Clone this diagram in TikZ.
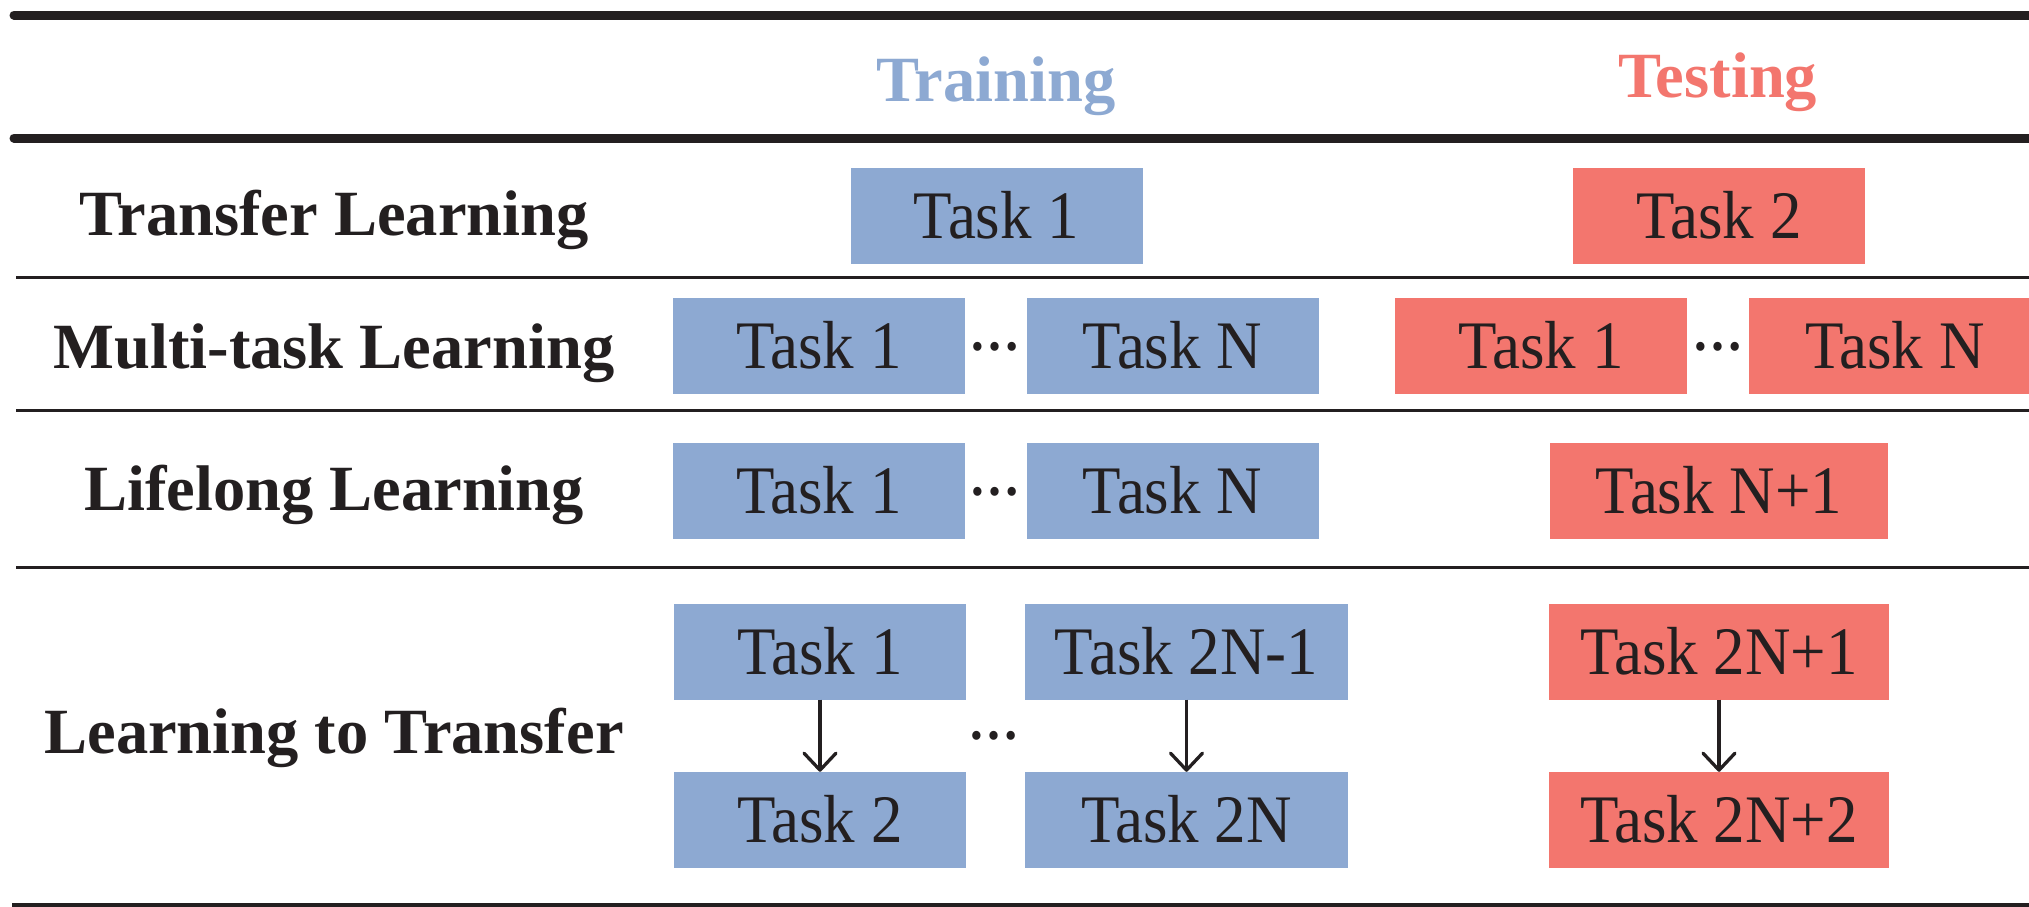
\documentclass[tikz,border=0pt]{standalone}
\usepackage{fontspec}
\setmainfont{Liberation Serif}
\newfontfamily\taskfont[FakeStretch=0.926]{Liberation Serif}
\usetikzlibrary{arrows.meta}
\definecolor{tblue}{RGB}{141,169,210}
\definecolor{tred}{RGB}{243,118,110}
\definecolor{ink}{RGB}{35,31,32}
\begin{document}
\begin{tikzpicture}[x=1pt,y=-1pt,
  tasktext/.style={font=\taskfont\fontsize{68}{74}\selectfont, text=ink},
  taskbox/.style={tasktext, minimum width=292pt, minimum height=96pt, inner sep=0pt, text height=45pt, text depth=0pt},
  bbox/.style={taskbox, fill=tblue},
  rbox/.style={taskbox, fill=tred},
  lab/.style={font=\bfseries\fontsize{64.5}{70}\selectfont, text=ink, anchor=base, inner sep=0pt},
  hdr/.style={font=\bfseries\fontsize{64.5}{70}\selectfont, anchor=base, inner sep=0pt},
  dotsnode/.style={font=\taskfont\bfseries\fontsize{55}{60}\selectfont, text=ink, anchor=base, inner sep=0pt},
  thickrule/.style={line width=9pt, draw=ink, line cap=round},
  thinrule/.style={line width=3pt, draw=ink},
  flow/.style={line width=3.3pt, draw=ink, -{Straight Barb[length=17pt,width=32pt,line cap=round,line join=round]}}
]
\useasboundingbox (0,0) rectangle (2029,906);
\clip (0,0) rectangle (2029,906);

% rules
\draw[thickrule] (14,15) -- (2045,15);
\draw[thickrule] (14,138) -- (2045,138);
\draw[thinrule] (16,277) -- (2045,277);
\draw[thinrule] (16,410) -- (2045,410);
\draw[thinrule] (16,567) -- (2045,567);
\draw[thinrule, line width=4pt] (12,905) -- (2045,905);

% headers
\node[hdr, text=tblue] (train) at (996,101) {Training};
\node[hdr, text=tred] (test) at (1718,97) {Testing};

% row labels
\node[lab] (l1) at (334,235) {Transfer Learning};
\node[lab] (l2) at (334,368) {Multi-task Learning};
\node[lab] (l3) at (334,510) {Lifelong Learning};
\node[lab] (l4) at (334,753) {Learning to Transfer};

% transfer learning
\node[bbox] (tl1) at (996.5,215.5) {Task 1};
\node[rbox] (tl2) at (1719,215.5) {Task 2};

% multi-task learning
\node[bbox] (mb1) at (819,346) {Task 1};
\node[bbox] (mbn) at (1172.5,346) {Task N};
\node[dotsnode] (md1) at (995,350) {…};
\node[rbox] (mr1) at (1541,346) {Task 1};
\node[rbox] (mrn) at (1895,346) {Task N};
\node[dotsnode] (md2) at (1718,350) {…};

% lifelong learning
\node[bbox] (lb1) at (819,491) {Task 1};
\node[bbox] (lbn) at (1172.5,491) {Task N};
\node[dotsnode] (ld) at (995,495) {…};
\node[rbox, minimum width=338pt] (lr) at (1719,491) {Task N+1};

% learning to transfer
\node[bbox] (a1) at (820,651.5) {Task 1};
\node[bbox] (a2) at (820,820) {Task 2};
\node[bbox, minimum width=323pt] (a3) at (1186.5,651.5) {Task 2N-1};
\node[bbox, minimum width=323pt] (a4) at (1186.5,820) {Task 2N};
\node[dotsnode] (ad) at (994,739) {…};
\node[rbox, minimum width=340pt] (a5) at (1719,651.5) {Task 2N+1};
\node[rbox, minimum width=340pt] (a6) at (1719,820) {Task 2N+2};

\draw[flow] (a1.south) -- (a2.north);
\draw[flow] (a3.south) -- (a4.north);
\draw[flow] (a5.south) -- (a6.north);
\end{tikzpicture}
\end{document}
